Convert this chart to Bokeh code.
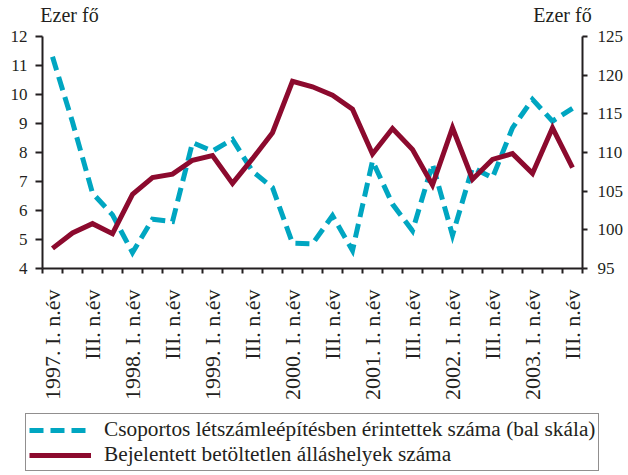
from bokeh.plotting import figure
from bokeh.layouts import column
from bokeh.models import Range1d, LinearAxis, FixedTicker, Legend, LegendItem
from bokeh.embed import file_html
from bokeh.resources import INLINE

# quarters 1997 Q1 .. 2003 Q3 (27 quarters), index 0..26
quarter_index = list(range(27))

tick_labels = [
    "1997. I. n.év", "III. n.év",
    "1998. I. n.év", "III. n.év",
    "1999. I. n.év", "III. n.év",
    "2000. I. n.év", "III. n.év",
    "2001. I. n.év", "III. n.év",
    "2002. I. n.év", "III. n.év",
    "2003. I. n.év", "III. n.év",
]

# Csoportos létszámleépítésben érintettek száma (ezer fő, bal skála)
csoportos = [11.3, 9.05, 6.6, 5.85, 4.55, 5.7, 5.62, 8.34, 8.05, 8.45,
             7.35, 6.79, 4.87, 4.85, 5.82, 4.62, 7.71, 6.22, 5.3, 7.6,
             5.15, 7.48, 7.13, 8.85, 9.83, 9.08, 9.52]

# Bejelentett betöltetlen álláshelyek száma (ezer fő, jobb skála)
bejelentett = [97.6, 99.6, 100.8, 99.5, 104.6, 106.75, 107.2, 109.0, 109.6, 106.0,
               109.2, 112.55, 119.2, 118.5, 117.4, 115.6, 109.8, 113.1, 110.4, 105.8,
               113.2, 106.55, 109.1, 109.85, 107.3, 113.2, 108.05]

series_names = ["Csoportos létszámleépítésben érintettek száma (bal skála)",
                "Bejelentett betöltetlen álláshelyek száma"]

left_ticks = [4, 5, 6, 7, 8, 9, 10, 11, 12]
right_ticks = [95, 100, 105, 110, 115, 120, 125]
unit_label = "Ezer fő"

FONT = "Liberation Serif"
INK = "#231f20"
TEAL = "#00a6c1"
WINE = "#8c0a2e"
DASH = "14 7"

p = figure(width=628, height=405,
           x_range=Range1d(-0.5, 26.5), y_range=Range1d(4, 12),
           output_backend="svg", toolbar_location=None,
           min_border_left=42, min_border_right=46,
           min_border_top=34, min_border_bottom=137)
p.frame_align = False
p.extra_y_ranges = {"right": Range1d(95, 125)}
p.extra_x_ranges = {"top": Range1d(0, 540)}
p.xgrid.visible = False
p.ygrid.visible = False
p.outline_line_color = None
p.background_fill_color = "white"

# x axis (quarters)
xa = p.xaxis[0]
xa.ticker = FixedTicker(ticks=list(range(0, 27, 2)),
                        minor_ticks=[i - 0.5 for i in range(28)])
xa.major_label_overrides = {i * 2: lab for i, lab in enumerate(tick_labels)}
xa.major_label_orientation = 3.141592653589793 / 2
xa.major_tick_out = 0
xa.major_tick_in = 0
xa.minor_tick_out = 5
xa.minor_tick_in = 0
xa.minor_tick_line_width = 2
xa.minor_tick_line_color = INK
xa.axis_line_width = 2
xa.axis_line_color = INK
xa.major_label_standoff = 16
xa.major_label_text_font = FONT
xa.major_label_text_font_size = "22px"
xa.major_label_text_color = INK

# left axis
ya = p.yaxis[0]
ya.ticker = FixedTicker(ticks=left_ticks)
ya.major_tick_out = 7
ya.major_tick_in = 0
ya.minor_tick_out = 0
ya.minor_tick_in = 0
ya.major_tick_line_width = 2
ya.major_tick_line_color = INK
ya.axis_line_width = 2
ya.axis_line_color = INK
ya.major_label_standoff = 8
ya.major_label_text_font = FONT
ya.major_label_text_font_size = "17px"
ya.major_label_text_color = INK

# right axis
ra = LinearAxis(y_range_name="right", ticker=FixedTicker(ticks=right_ticks))
ra.major_tick_out = 5
ra.major_tick_in = 0
ra.minor_tick_out = 0
ra.minor_tick_in = 0
ra.major_tick_line_width = 2
ra.major_tick_line_color = INK
ra.axis_line_width = 2
ra.axis_line_color = INK
ra.major_label_standoff = 10
ra.major_label_text_font = FONT
ra.major_label_text_font_size = "17px"
ra.major_label_text_color = INK
p.add_layout(ra, "right")

# unit captions above both value axes
ta = LinearAxis(x_range_name="top", ticker=FixedTicker(ticks=[27, 520], minor_ticks=[]))
ta.major_label_overrides = {27: unit_label, 520: unit_label}
ta.axis_line_color = None
ta.major_tick_line_color = None
ta.minor_tick_line_color = None
ta.major_tick_out = 0
ta.major_tick_in = 0
ta.minor_tick_out = 0
ta.minor_tick_in = 0
ta.major_label_standoff = 11
ta.major_label_text_font = FONT
ta.major_label_text_font_size = "20px"
ta.major_label_text_color = INK
p.add_layout(ta, "above")

p.line(quarter_index, csoportos, line_color=TEAL, line_width=5,
       line_dash=DASH, line_join="miter")
p.line(quarter_index, bejelentett, line_color=WINE, line_width=5,
       line_join="miter", y_range_name="right")

# legend panel underneath the chart (key glyphs only, no data drawn here)
lg = figure(width=628, height=70, x_range=Range1d(0, 1), y_range=Range1d(0, 1),
            output_backend="svg", toolbar_location=None,
            min_border=0, x_axis_location=None, y_axis_location=None)
lg.frame_align = False
lg.xgrid.visible = False
lg.ygrid.visible = False
lg.outline_line_color = None
key_dashed = lg.line([-1], [-1], line_color=TEAL, line_width=5, line_dash=DASH)
key_solid = lg.line([-1], [-1], line_color=WINE, line_width=5)

legend = Legend(items=[
    LegendItem(label=series_names[0], renderers=[key_dashed]),
    LegendItem(label=series_names[1], renderers=[key_solid]),
], location=(25, 4), margin=0, padding=3, spacing=0,
   label_height=22, glyph_height=22, glyph_width=62, label_standoff=13,
   label_text_font=FONT, label_text_font_size="21.3px", label_text_color=INK,
   border_line_color=INK, border_line_width=1,
   background_fill_color="white", background_fill_alpha=1.0)
lg.add_layout(legend)

layout = column(p, lg, spacing=0)
open("out.html", "w").write(file_html(layout, INLINE))
